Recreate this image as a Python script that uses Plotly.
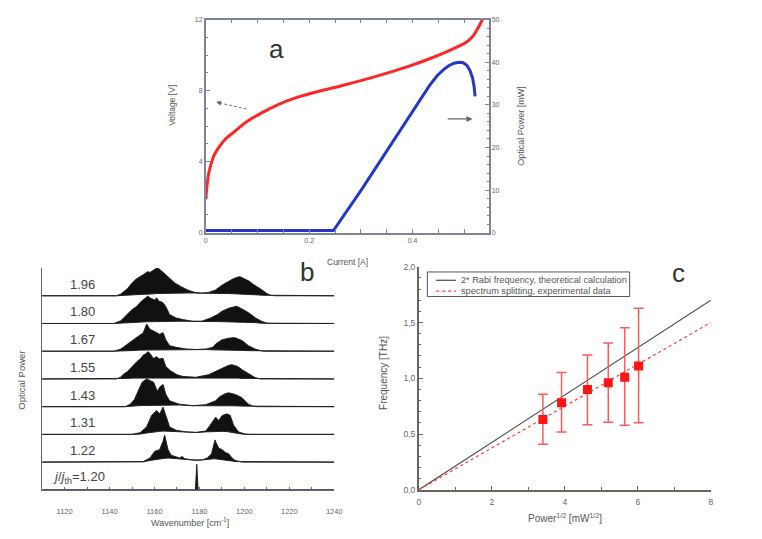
import plotly.graph_objects as go

FONT = "Liberation Sans, Arial, sans-serif"

# ---------------- panel a: voltage / optical power vs current ----------------
iv_current = [0.0, 0.0019, 0.0051, 0.0096, 0.0159, 0.0255, 0.0382, 0.0573, 0.0764,
              0.108, 0.140, 0.172, 0.204, 0.268, 0.331, 0.395, 0.433, 0.471, 0.503,
              0.516, 0.525, 0.535]
iv_voltage = [1.88, 2.52, 3.26, 3.81, 4.36, 4.82, 5.28, 5.74, 6.20,
              6.75, 7.22, 7.58, 7.86, 8.32, 8.82, 9.40, 9.80, 10.26, 10.71,
              11.04, 11.45, 12.0]

lp_current = [0.0, 0.247, 0.30, 0.35, 0.40, 0.433, 0.448, 0.46, 0.47, 0.48, 0.49,
              0.498, 0.505, 0.511, 0.516, 0.519, 0.521]
lp_power = [0.5, 0.5, 9.9, 19.1, 28.5, 34.6, 36.9, 38.3, 39.2, 39.8, 40.0,
            39.9, 39.3, 38.1, 36.4, 34.4, 32.0]

a_xtick_vals = [0, 0.2, 0.4]
a_xtick_text = ["0", "0.2", "0.4"]

# ---------------- panel b: spectra at increasing j/j_th ----------------
b_labels = ["1.20", "1.22", "1.31", "1.43", "1.55", "1.67", "1.80", "1.96"]

wn_120 = [1110, 1178.2, 1178.8, 1179.4, 1240]
top_120 = [0, 0, 0.92, 0, 0]
bot_120 = [0, 0, 0, 0, 0]

wn_122 = [1110, 1155, 1158, 1160.1, 1162.3, 1163.8, 1164.5, 1165.3, 1166, 1167.4,
          1168.9, 1171.1, 1172.3, 1173.3, 1175.5, 1178.4, 1181.3, 1183.5, 1185.4,
          1186.4, 1186.9, 1187.4, 1188.6, 1190.1, 1191.5, 1193, 1194.5, 1195.9,
          1197.4, 1199, 1240]
top_122 = [0, 0.02, 0.15, 0.39, 0.45, 0.75, 0.98, 0.7, 0.45, 0.25,
           0.2, 0.15, 0.2, 0.13, 0.09, 0.07, 0.08, 0.15, 0.3,
           0.6, 0.8, 0.7, 0.5, 0.45, 0.35, 0.3, 0.15, 0.06,
           0.02, 0, 0]
bot_122 = [0, 0.01, 0.06, 0.09, 0.11, 0.13, 0.14, 0.14, 0.15, 0.15,
           0.14, 0.13, 0.12, 0.11, 0.09, 0.07, 0.08, 0.1, 0.11,
           0.12, 0.12, 0.12, 0.11, 0.1, 0.08, 0.06, 0.04, 0.02,
           0.01, 0, 0]

wn_131 = [1110, 1150, 1153.6, 1156.5, 1158.7, 1160.9, 1162.3, 1163.8, 1165.3, 1166.7,
          1169.6, 1174, 1178.4, 1182.8, 1184.2, 1187.2, 1188.6, 1190.1, 1192.3,
          1193.7, 1195.2, 1197.4, 1200.3, 1203, 1240]
top_131 = [0, 0, 0.06, 0.27, 0.68, 0.86, 0.74, 0.98, 0.62, 0.27,
           0.15, 0.09, 0.07, 0.12, 0.27, 0.62, 0.5, 0.68, 0.74,
           0.68, 0.33, 0.09, 0.01, 0, 0]
bot_131 = [0, 0, 0.01, 0.05, 0.08, 0.1, 0.11, 0.12, 0.12, 0.12,
           0.12, 0.09, 0.07, 0.09, 0.1, 0.11, 0.11, 0.11, 0.1,
           0.09, 0.07, 0.03, 0, 0, 0]

wn_143 = [1110, 1147, 1149.2, 1151, 1152.1, 1154, 1154.5, 1156.5, 1158, 1159.6,
          1160.5, 1161.3, 1162.3, 1163.8, 1165, 1166.7, 1171, 1176.9, 1182.8,
          1187.2, 1189, 1190.1, 1191.5, 1193, 1194.5, 1195.9, 1198.8, 1201.8,
          1204, 1206, 1240]
top_143 = [0, 0, 0.09, 0.25, 0.45, 0.75, 0.88, 1.0, 0.93, 0.88,
           0.7, 0.56, 0.7, 0.8, 0.45, 0.21, 0.09, 0.035, 0.07,
           0.21, 0.36, 0.42, 0.47, 0.5, 0.46, 0.44, 0.33, 0.09,
           0.01, 0, 0]
bot_143 = [0, 0, 0.01, 0.02, 0.03, 0.04, 0.04, 0.05, 0.05, 0.05,
           0.05, 0.05, 0.05, 0.06, 0.06, 0.06, 0.06, 0.035, 0.04,
           0.04, 0.04, 0.04, 0.04, 0.03, 0.03, 0.03, 0.02, 0.01,
           0, 0, 0]

wn_155 = [1110, 1143, 1144.9, 1146.3, 1148, 1150, 1152.1, 1154, 1155, 1156,
          1157, 1158, 1159.5, 1161, 1162, 1163.8, 1165, 1167, 1170, 1172.6,
          1178.4, 1184, 1188.6, 1191.5, 1193, 1194.5, 1197, 1199, 1201.8,
          1204.7, 1207, 1240]
top_155 = [0, 0, 0.06, 0.18, 0.27, 0.45, 0.62, 0.75, 0.86, 0.9,
           0.98, 0.92, 0.74, 0.8, 0.72, 0.74, 0.45, 0.3, 0.15, 0.09,
           0.06, 0.15, 0.33, 0.45, 0.49, 0.51, 0.45, 0.33, 0.18,
           0.05, 0, 0]
bot_155 = [0, 0, 0.01, 0.02, 0.02, 0.03, 0.03, 0.04, 0.04, 0.04,
           0.05, 0.05, 0.05, 0.05, 0.05, 0.05, 0.05, 0.05, 0.05, 0.05,
           0.05, 0.05, 0.04, 0.04, 0.03, 0.03, 0.03, 0.02, 0.01,
           0, 0, 0]

wn_167 = [1110, 1142, 1145, 1148, 1150, 1152, 1153.5, 1155, 1156.5, 1158,
          1159.5, 1161, 1162.3, 1163.8, 1165, 1166.7, 1169.6, 1174, 1178.4,
          1183, 1186, 1187.2, 1190, 1193, 1195.5, 1197, 1199, 1201.8,
          1204.7, 1207.6, 1210, 1240]
top_167 = [0, 0, 0.08, 0.26, 0.4, 0.49, 0.58, 0.67, 0.98, 0.79,
           0.73, 0.67, 0.61, 0.67, 0.41, 0.2, 0.14, 0.08, 0.06,
           0.08, 0.14, 0.26, 0.41, 0.47, 0.49, 0.45, 0.38, 0.2,
           0.08, 0.01, 0, 0]
bot_167 = [0, 0, 0.01, 0.02, 0.03, 0.03, 0.04, 0.04, 0.05, 0.05,
           0.05, 0.05, 0.06, 0.06, 0.06, 0.06, 0.06, 0.06, 0.06,
           0.06, 0.05, 0.05, 0.05, 0.04, 0.04, 0.03, 0.03, 0.02,
           0.01, 0, 0, 0]

wn_180 = [1110, 1142, 1145, 1148, 1150, 1152, 1154, 1156, 1157, 1158,
          1159, 1160, 1161, 1162, 1163, 1164, 1165, 1166.7, 1169.6, 1172.6,
          1177, 1181, 1185, 1188, 1190, 1193, 1195, 1196.6, 1199, 1202,
          1205, 1207.6, 1210, 1212, 1240]
top_180 = [0, 0, 0.1, 0.32, 0.5, 0.61, 0.79, 0.92, 0.99, 0.92,
           0.87, 0.85, 0.92, 0.8, 0.78, 0.73, 0.61, 0.32, 0.2, 0.14,
           0.08, 0.08, 0.2, 0.32, 0.44, 0.55, 0.59, 0.62, 0.52, 0.38,
           0.2, 0.08, 0.01, 0, 0]
bot_180 = [0, 0, 0.01, 0.02, 0.03, 0.04, 0.05, 0.06, 0.06, 0.07,
           0.07, 0.07, 0.08, 0.08, 0.08, 0.08, 0.08, 0.08, 0.08, 0.08,
           0.08, 0.08, 0.07, 0.07, 0.07, 0.06, 0.06, 0.06, 0.05, 0.04,
           0.03, 0.01, 0, 0, 0]

wn_196 = [1110, 1143, 1145, 1148, 1150, 1152, 1155, 1157, 1158, 1159,
          1160, 1161, 1162, 1163, 1164, 1165, 1167, 1169, 1172, 1175,
          1178, 1181, 1184, 1187, 1190, 1193, 1195, 1197, 1198, 1200,
          1202, 1204, 1206, 1208, 1210, 1212, 1214, 1240]
top_196 = [0, 0, 0.06, 0.26, 0.46, 0.61, 0.76, 0.87, 0.84, 0.9,
           0.96, 1.0, 0.97, 0.9, 0.86, 0.76, 0.61, 0.46, 0.32, 0.2,
           0.12, 0.09, 0.12, 0.2, 0.38, 0.53, 0.61, 0.67, 0.69, 0.61,
           0.53, 0.41, 0.32, 0.2, 0.08, 0.01, 0, 0]
bot_196 = [0, 0, 0.01, 0.02, 0.03, 0.04, 0.05, 0.06, 0.06, 0.07,
           0.07, 0.08, 0.08, 0.08, 0.09, 0.09, 0.09, 0.1, 0.1, 0.1,
           0.1, 0.09, 0.09, 0.09, 0.08, 0.08, 0.07, 0.07, 0.06, 0.06,
           0.05, 0.04, 0.03, 0.02, 0.01, 0, 0, 0]

# ---------------- panel c: splitting vs sqrt(power) ----------------
c_sqrt_power = [3.40, 3.91, 4.62, 5.19, 5.64, 6.02]
c_splitting = [0.63, 0.78, 0.90, 0.96, 1.01, 1.11]
c_err_top = [0.856, 1.053, 1.208, 1.317, 1.452, 1.628]
c_err_bottom = [0.408, 0.519, 0.584, 0.607, 0.578, 0.601]
c_line_x = [0, 8]
c_theory_y = [0, 1.70]
c_fit_y = [0, 1.50]
c_ytick_vals = [0, 0.5, 1.0, 1.5, 2.0]
c_ytick_text = ["0,0", "0,5", "1,0", "1,5", "2,0"]
c_legend_names = ["2* Rabi frequency, theoretical calculation",
                  "spectrum splitting, experimental data"]

THEORY_COLOR = "#4a4a4a"
EXP_COLOR = "#ff3b3b"

fig = go.Figure()

# panel a curves
fig.add_trace(go.Scatter(x=iv_current, y=iv_voltage, mode="lines",
                         line=dict(color="#ff2626", width=3, shape="spline", smoothing=1.0),
                         xaxis="x", yaxis="y"))
fig.add_trace(go.Scatter(x=lp_current, y=lp_power, mode="lines",
                         line=dict(color="#2536c8", width=3),
                         xaxis="x", yaxis="y2"))

# panel b stacked spectra, each filled between its upper and lower envelope
spectra = [(wn_120, top_120, bot_120), (wn_122, top_122, bot_122),
           (wn_131, top_131, bot_131), (wn_143, top_143, bot_143),
           (wn_155, top_155, bot_155), (wn_167, top_167, bot_167),
           (wn_180, top_180, bot_180), (wn_196, top_196, bot_196)]
for base, (wn, top, bot) in enumerate(spectra):
    xs = list(wn) + list(wn[::-1])
    ys = [base + v for v in top] + [base + v for v in bot[::-1]]
    fig.add_trace(go.Scatter(x=xs, y=ys, mode="lines", fill="toself",
                             fillcolor="#111111", line=dict(color="#222222", width=1),
                             xaxis="x2", yaxis="y3", hoverinfo="skip"))

# panel c lines, markers and error bars
fig.add_trace(go.Scatter(x=c_line_x, y=c_theory_y, mode="lines",
                         line=dict(color=THEORY_COLOR, width=1.2),
                         name=c_legend_names[0], xaxis="x3", yaxis="y4"))
fig.add_trace(go.Scatter(x=c_line_x, y=c_fit_y, mode="lines",
                         line=dict(color=EXP_COLOR, width=1.2, dash="dot"),
                         name=c_legend_names[1], xaxis="x3", yaxis="y4"))
fig.add_trace(go.Scatter(
    x=c_sqrt_power, y=c_splitting, mode="markers",
    marker=dict(symbol="square", size=9, color="#ff1414"),
    error_y=dict(type="data", symmetric=False,
                 array=[t - v for t, v in zip(c_err_top, c_splitting)],
                 arrayminus=[v - b for b, v in zip(c_err_bottom, c_splitting)],
                 color="#ff5a5a", thickness=1.5, width=5),
    xaxis="x3", yaxis="y4"))

A_AX = "#7e8499"
B_AX = "#5f6585"
C_AX = "#66665a"
tick_a = dict(size=7, color="#666666", family=FONT)
tick_b = dict(size=7.5, color="#666666", family=FONT)
tick_c = dict(size=8.5, color="#666666", family=FONT)

W, H = 762, 539
def px_x(v):
    return v / W
def px_y(v):
    return 1 - v / H

fig.update_layout(
    width=W, height=H, margin=dict(l=0, r=0, t=0, b=0), showlegend=False,
    paper_bgcolor="white", plot_bgcolor="white",
    font=dict(family=FONT, color="#555555"),
    xaxis=dict(domain=[px_x(206.5), px_x(493)], range=[0, 0.547], anchor="y",
               tickvals=a_xtick_vals, ticktext=a_xtick_text, ticks="inside", ticklen=4,
               tickcolor=A_AX, showline=True, linecolor=A_AX, linewidth=1.5,
               mirror="allticks", showgrid=False, zeroline=False, tickfont=tick_a,
               minor=dict(dtick=0.05, ticks="inside", ticklen=2, tickcolor=A_AX)),
    yaxis=dict(domain=[px_y(232), px_y(15)], range=[0, 12], anchor="x", dtick=4,
               ticks="inside", ticklen=4, tickcolor=A_AX, showline=True,
               linecolor=A_AX, linewidth=1.5, mirror=True, showgrid=False,
               zeroline=False, tickfont=tick_a,
               minor=dict(dtick=1, ticks="inside", ticklen=2, tickcolor=A_AX)),
    yaxis2=dict(overlaying="y", side="right", anchor="x", range=[0, 50], dtick=10,
                ticks="inside", ticklen=4, tickcolor=A_AX, showline=True,
                linecolor=A_AX, linewidth=1.5, showgrid=False, zeroline=False,
                tickfont=tick_a,
                minor=dict(dtick=2, ticks="inside", ticklen=2, tickcolor=A_AX)),
    xaxis2=dict(domain=[px_x(40.7), px_x(336.7)], range=[1110, 1240], anchor="y3",
                dtick=20, ticks="inside", ticklen=3, tickcolor=B_AX, showline=True,
                linecolor=B_AX, linewidth=1.2, showgrid=False, zeroline=False,
                tickfont=tick_b, ticklabelstandoff=14,
                minor=dict(dtick=10, ticks="inside", ticklen=3, tickcolor=B_AX)),
    yaxis3=dict(domain=[px_y(494), px_y(268)], range=[0, 8], anchor="x2",
                showticklabels=False, ticks="", showline=True, linecolor=B_AX,
                linewidth=1.2, showgrid=False, zeroline=False),
    xaxis3=dict(domain=[px_x(422.3), px_x(718.3)], range=[0, 8], anchor="y4",
                dtick=2, ticks="inside", ticklen=4, tickcolor=C_AX, showline=True,
                linecolor=C_AX, linewidth=1.5, showgrid=False, zeroline=False,
                tickfont=tick_c, ticklabelstandoff=3,
                minor=dict(dtick=1, ticks="inside", ticklen=3, tickcolor=C_AX)),
    yaxis4=dict(domain=[px_y(494), px_y(266.7)], range=[0, 2], anchor="x3",
                tickvals=c_ytick_vals, ticktext=c_ytick_text, ticks="inside",
                ticklen=4, tickcolor=C_AX, showline=True, linecolor=C_AX,
                linewidth=1.5, showgrid=False, zeroline=False, tickfont=tick_c,
                minor=dict(dtick=0.1, ticks="inside", ticklen=2, tickcolor=C_AX)),
)

annotations = []
def label(text, x, y, size, angle=0, color="#555555", xref="paper", yref="paper",
          xanchor="center"):
    annotations.append(dict(text=text, x=x, y=y, xref=xref, yref=yref, showarrow=False,
                            textangle=angle, font=dict(size=size, color=color, family=FONT),
                            xanchor=xanchor, yanchor="middle"))

# panel letters
label("a", px_x(278), px_y(45), 26, color="#333333")
label("b", px_x(309), px_y(272), 26, color="#333333")
label("c", px_x(685), px_y(273), 26, color="#333333")

# axis titles
label("Voltage [V]", px_x(172), px_y(102), 8.5, angle=-90)
label("Optical Power [mW]", px_x(526), px_y(123), 9, angle=-90)
label("Current [A]", px_x(350), px_y(262), 8.5)
label("Optical Power", px_x(20), px_y(382), 9.5, angle=-90)
label("Wavenumber [cm<sup>-1</sup>]", px_x(190), px_y(527), 9)
label("Frequency [THz]", px_x(386), px_y(375), 10, angle=-90)
label("Power<sup>1/2</sup> [mW<sup>1/2</sup>]", px_x(570), px_y(523), 10)

# curve labels in panel b
for base, txt in enumerate(b_labels):
    if base == 0:
        label("<i>j</i>/<i>j</i><sub>th</sub>=" + txt, 1126.5, 0.44, 13,
              color="#444444", xref="x2", yref="y3")
    else:
        label(txt, 1128, base + 0.42, 13, color="#444444", xref="x2", yref="y3")

# legend box of panel c
shapes = [
    dict(type="rect", xref="paper", yref="paper", x0=px_x(431), x1=px_x(636),
         y0=px_y(297), y1=px_y(272), line=dict(color="#555566", width=1),
         fillcolor="white", layer="above"),
    dict(type="line", xref="paper", yref="paper", x0=px_x(440), x1=px_x(460),
         y0=px_y(280.5), y1=px_y(280.5), line=dict(color=THEORY_COLOR, width=1.2),
         layer="above"),
    dict(type="line", xref="paper", yref="paper", x0=px_x(440), x1=px_x(460),
         y0=px_y(291.5), y1=px_y(291.5), line=dict(color=EXP_COLOR, width=1.2, dash="dot"),
         layer="above"),
]
label(c_legend_names[0], px_x(463), px_y(280.5), 9.2, xanchor="left")
label(c_legend_names[1], px_x(463), px_y(291.5), 9.2, xanchor="left")

# direction arrows in panel a: dashed shaft pointing to the voltage axis
shapes.append(dict(type="line", xref="x", yref="y", x0=0.079, y0=6.97, x1=0.030, y1=7.29,
                   line=dict(color="#777777", width=1, dash="3px,2px")))
annotations.append(dict(x=0.020, y=7.36, ax=0.032, ay=7.28, xref="x", yref="y",
                        axref="x", ayref="y", showarrow=True, arrowhead=2,
                        arrowsize=1, arrowwidth=1, arrowcolor="#666666", text=""))
annotations.append(dict(x=0.516, y=26.7, ax=0.465, ay=26.7, xref="x", yref="y2",
                        axref="x", ayref="y2", showarrow=True, arrowhead=2,
                        arrowsize=1, arrowwidth=1.2, arrowcolor="#666666", text=""))

fig.update_layout(annotations=annotations, shapes=shapes)
fig.write_html("out.html")
